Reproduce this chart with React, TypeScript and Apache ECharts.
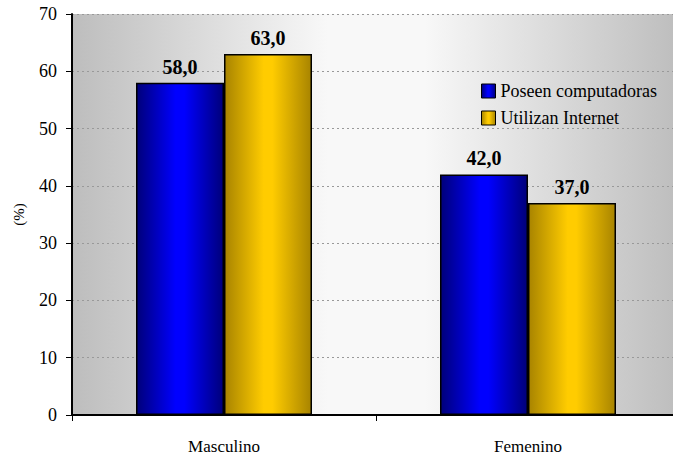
import React, { useEffect, useRef } from "react";
import * as echarts from "echarts";

const categories = ["Masculino", "Femenino"];
const seriesNames = ["Poseen computadoras", "Utilizan Internet"];
const poseen = [58.0, 42.0];
const utilizan = [63.0, 37.0];

const FONT = "Liberation Serif";

function hGrad(edge: string, mid: string) {
  return new echarts.graphic.LinearGradient(0, 0, 1, 0, [
    { offset: 0, color: edge },
    { offset: 0.45, color: mid },
    { offset: 0.55, color: mid },
    { offset: 1, color: edge },
  ]);
}

export default function App() {
  const ref = useRef<HTMLDivElement>(null);
  useEffect(() => {
    document.body.style.margin = "0";
    const chart = echarts.init(ref.current!, null, { renderer: "svg" });
    const blue = hGrad("#00007a", "#0000ff");
    const gold = hGrad("#a88400", "#ffcc00");
    const labelCfg = {
      show: true,
      position: "top" as const,
      distance: 6,
      fontFamily: FONT,
      fontWeight: "bold" as const,
      fontSize: 20,
      color: "#000",
      formatter: (p: any) => p.value.toFixed(1).replace(".", ","),
    };
    chart.setOption({
      animation: false,
      backgroundColor: "#ffffff",
      textStyle: { fontFamily: FONT },
      grid: {
        left: 72,
        top: 14,
        right: 0,
        bottom: 44,
        show: true,
        borderWidth: 0,
        backgroundColor: new echarts.graphic.LinearGradient(0, 0, 1, 0, [
          { offset: 0, color: "#bdbdbd" },
          { offset: 0.42, color: "#f8f8f8" },
          { offset: 0.58, color: "#f8f8f8" },
          { offset: 1, color: "#bdbdbd" },
        ]),
      },
      legend: {
        left: 476,
        top: 77,
        orient: "vertical",
        itemWidth: 14,
        itemHeight: 14,
        itemGap: 9,
        icon: "rect",
        textStyle: { fontFamily: FONT, fontSize: 18, color: "#000" },
        data: [
          { name: seriesNames[0], itemStyle: { color: blue, borderColor: "#000", borderWidth: 1 } },
          { name: seriesNames[1], itemStyle: { color: gold, borderColor: "#000", borderWidth: 1 } },
        ],
      },
      xAxis: {
        type: "category",
        data: categories,
        axisLine: { lineStyle: { color: "#000", width: 2 } },
        axisTick: { show: true, alignWithLabel: false, length: 6, lineStyle: { color: "#000", width: 1 } },
        axisLabel: { fontFamily: FONT, fontSize: 17, color: "#000", margin: 23 },
      },
      yAxis: {
        type: "value",
        min: 0,
        max: 70,
        interval: 10,
        name: "(%)",
        nameLocation: "middle",
        nameGap: 46,
        nameRotate: 90,
        nameTextStyle: { fontFamily: FONT, fontSize: 15, color: "#000" },
        axisLine: { show: true, lineStyle: { color: "#000", width: 2 } },
        axisTick: { show: true, length: 6, lineStyle: { color: "#000", width: 1 } },
        axisLabel: { fontFamily: FONT, fontSize: 18, color: "#000", margin: 15 },
        splitLine: { show: true, lineStyle: { color: "#999", type: [2, 3], width: 1 } },
      },
      series: [
        {
          name: seriesNames[0],
          type: "bar",
          data: poseen,
          barWidth: 88,
          barGap: "0%",
          itemStyle: { color: blue, borderColor: "#000", borderWidth: 1.5 },
          label: labelCfg,
        },
        {
          name: seriesNames[1],
          type: "bar",
          data: utilizan,
          barWidth: 88,
          barGap: "0%",
          itemStyle: { color: gold, borderColor: "#000", borderWidth: 1.5 },
          label: labelCfg,
        },
      ],
    });
    return () => chart.dispose();
  }, []);
  return (
    <div style={{ position: "fixed", left: 0, top: 0, width: 673, height: 459, overflow: "hidden" }}>
      <div ref={ref} style={{ width: 680, height: 459 }} />
    </div>
  );
}
